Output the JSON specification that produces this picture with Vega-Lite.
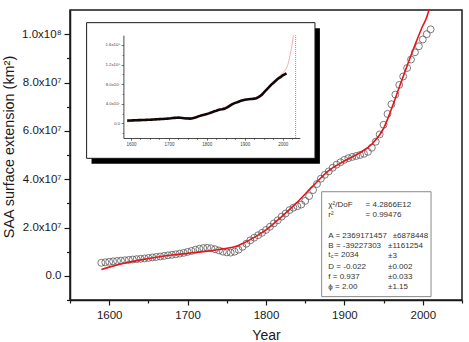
{
  "$schema": "https://vega.github.io/schema/vega-lite/v6.json",
  "width": 392,
  "height": 290,
  "autosize": {"type": "none"},
  "padding": {"left": 70, "top": 10, "right": 7, "bottom": 42},
  "background": "white",
  "config": {
    "font": "Liberation Sans",
    "view": {"stroke": "#1a1a1a", "strokeWidth": 1.5},
    "axis": {
      "grid": false,
      "domainColor": "#1a1a1a",
      "tickColor": "#1a1a1a",
      "labelColor": "#1a1a1a",
      "titleColor": "#1a1a1a",
      "labelFont": "Liberation Sans",
      "titleFont": "Liberation Sans",
      "titleFontWeight": "normal"
    }
  },
  "datasets": {
    "saa": [
      {"year": 1590, "area": 5400000}, {"year": 1595, "area": 5600000}, {"year": 1600, "area": 5800000},
      {"year": 1605, "area": 6000000}, {"year": 1610, "area": 6150000}, {"year": 1615, "area": 6300000},
      {"year": 1620, "area": 6450000}, {"year": 1625, "area": 6600000}, {"year": 1630, "area": 6750000},
      {"year": 1635, "area": 6900000}, {"year": 1640, "area": 7050000}, {"year": 1645, "area": 7200000},
      {"year": 1650, "area": 7400000}, {"year": 1655, "area": 7600000}, {"year": 1660, "area": 7800000},
      {"year": 1665, "area": 8000000}, {"year": 1670, "area": 8250000}, {"year": 1675, "area": 8500000},
      {"year": 1680, "area": 8700000}, {"year": 1685, "area": 8900000}, {"year": 1690, "area": 9200000},
      {"year": 1695, "area": 9500000}, {"year": 1700, "area": 9900000}, {"year": 1705, "area": 10300000},
      {"year": 1710, "area": 10800000}, {"year": 1715, "area": 11200000}, {"year": 1720, "area": 11500000},
      {"year": 1725, "area": 11600000}, {"year": 1730, "area": 11400000}, {"year": 1735, "area": 11000000},
      {"year": 1740, "area": 10500000}, {"year": 1745, "area": 10000000}, {"year": 1750, "area": 9700000},
      {"year": 1755, "area": 9600000}, {"year": 1760, "area": 10000000}, {"year": 1765, "area": 10800000},
      {"year": 1770, "area": 12000000}, {"year": 1775, "area": 13300000}, {"year": 1780, "area": 14700000},
      {"year": 1785, "area": 15800000}, {"year": 1790, "area": 16800000}, {"year": 1795, "area": 17800000},
      {"year": 1800, "area": 19000000}, {"year": 1805, "area": 20300000}, {"year": 1810, "area": 21700000},
      {"year": 1815, "area": 23000000}, {"year": 1820, "area": 24500000}, {"year": 1825, "area": 25800000},
      {"year": 1830, "area": 27200000}, {"year": 1835, "area": 28200000}, {"year": 1840, "area": 28800000},
      {"year": 1845, "area": 29500000}, {"year": 1850, "area": 31000000}, {"year": 1855, "area": 33000000},
      {"year": 1860, "area": 35500000}, {"year": 1865, "area": 38000000}, {"year": 1870, "area": 40200000},
      {"year": 1875, "area": 41800000}, {"year": 1880, "area": 43200000}, {"year": 1885, "area": 44700000},
      {"year": 1890, "area": 46000000}, {"year": 1895, "area": 47000000}, {"year": 1900, "area": 48000000},
      {"year": 1905, "area": 48700000}, {"year": 1910, "area": 49200000}, {"year": 1915, "area": 49600000},
      {"year": 1920, "area": 50000000}, {"year": 1925, "area": 50500000}, {"year": 1930, "area": 51300000},
      {"year": 1935, "area": 53000000}, {"year": 1940, "area": 55500000}, {"year": 1945, "area": 58500000},
      {"year": 1950, "area": 62500000}, {"year": 1955, "area": 67000000}, {"year": 1960, "area": 71000000},
      {"year": 1965, "area": 75000000}, {"year": 1970, "area": 79000000}, {"year": 1975, "area": 82500000},
      {"year": 1980, "area": 86000000}, {"year": 1985, "area": 89500000}, {"year": 1990, "area": 92500000},
      {"year": 1995, "area": 95000000}, {"year": 2000, "area": 97800000}, {"year": 2005, "area": 100000000},
      {"year": 2010, "area": 102000000}
    ],
    "fit": [
      {"year": 1590, "fit": 2600000}, {"year": 1600, "fit": 3600000}, {"year": 1620, "fit": 5300000},
      {"year": 1640, "fit": 6600000}, {"year": 1660, "fit": 7700000}, {"year": 1680, "fit": 8600000},
      {"year": 1700, "fit": 9300000}, {"year": 1720, "fit": 10000000}, {"year": 1740, "fit": 10900000},
      {"year": 1760, "fit": 12000000}, {"year": 1780, "fit": 15000000}, {"year": 1800, "fit": 19000000},
      {"year": 1820, "fit": 24500000}, {"year": 1840, "fit": 30500000}, {"year": 1860, "fit": 37200000},
      {"year": 1880, "fit": 43500000}, {"year": 1900, "fit": 47500000}, {"year": 1920, "fit": 51000000},
      {"year": 1935, "fit": 54500000}, {"year": 1950, "fit": 61000000}, {"year": 1960, "fit": 69000000},
      {"year": 1970, "fit": 78000000}, {"year": 1980, "fit": 86900000}, {"year": 1990, "fit": 95500000},
      {"year": 2000, "fit": 103500000}, {"year": 2005, "fit": 107000000}, {"year": 2010, "fit": 113000000},
      {"year": 2015, "fit": 124000000}, {"year": 2020, "fit": 142000000}, {"year": 2025, "fit": 162000000},
      {"year": 2028, "fit": 180000000}
    ]
  },
  "layer": [
    {
      "layer": [
        {
          "data": {"name": "saa"},
          "mark": {"type": "point", "filled": false, "size": 48, "stroke": "#5a5a5a", "strokeWidth": 0.8, "opacity": 1},
          "encoding": {
            "x": {
              "field": "year", "type": "quantitative",
              "scale": {"domain": [1550, 2050], "nice": false, "zero": false},
              "axis": {
                "orient": "bottom", "values": [1600, 1700, 1800, 1900, 2000], "format": "d",
                "tickSize": 5, "tickWidth": 1.2, "domainWidth": 1.5,
                "labelFontSize": 11.5, "labelPadding": 4,
                "title": "Year", "titleFontSize": 14, "titleBaseline": "alphabetic", "titleY": 39
              }
            },
            "y": {
              "field": "area", "type": "quantitative",
              "scale": {"domain": [-10000000, 110000000], "nice": false, "zero": false},
              "axis": {
                "orient": "left", "values": [0, 20000000, 40000000, 60000000, 80000000, 100000000],
                "labelExpr": "datum.value == 0 ? '0.0' : datum.value >= 100000000 ? format(datum.value / 100000000, '.1f') + 'x10⁸' : format(datum.value / 10000000, '.1f') + 'x10⁷'",
                "tickSize": 6, "tickWidth": 1.2, "domainWidth": 1.5,
                "labelFontSize": 11.5, "labelPadding": 3,
                "title": "SAA surface extension (km²)", "titleFontSize": 14.4, "titleAngle": 270,
                "titleX": -61, "titleY": 136.5, "titleAlign": "center", "titleBaseline": "middle"
              }
            }
          }
        },
        {
          "data": {"name": "fit"},
          "mark": {"type": "line", "color": "#e4161b", "strokeWidth": 1.6, "interpolate": "monotone", "clip": true},
          "encoding": {
            "x": {
              "field": "year", "type": "quantitative",
              "axis": {"orient": "bottom", "values": [1550, 1650, 1750, 1850, 1950, 2050], "labels": false, "domain": false, "tickSize": 3, "tickWidth": 1.2, "title": null}
            },
            "y": {
              "field": "fit", "type": "quantitative",
              "axis": {"orient": "left", "values": [-10000000, 10000000, 30000000, 50000000, 70000000, 90000000], "labels": false, "domain": false, "tickSize": 3.5, "tickWidth": 1.2, "title": null}
            }
          }
        },
        {
          "data": {"values": [{}]},
          "mark": {"type": "rect", "fill": "white", "stroke": "#8a8a8a", "strokeWidth": 1},
          "encoding": {
            "x": {"datum": 1871, "type": "quantitative", "axis": null},
            "x2": {"datum": 2010.5},
            "y": {"datum": 34800000, "type": "quantitative", "axis": null},
            "y2": {"datum": -8600000}
          }
        },
        {
          "data": {"values": [{}]},
          "mark": {
            "type": "text", "align": "left", "baseline": "top", "fontSize": 8, "lineHeight": 10, "color": "#333333",
            "text": ["χ²/DoF", "r²"]
          },
          "encoding": {
            "x": {"datum": 1879.5, "type": "quantitative", "axis": null},
            "y": {"datum": 30760000, "type": "quantitative", "axis": null}
          }
        },
        {
          "data": {"values": [{}]},
          "mark": {
            "type": "text", "align": "left", "baseline": "top", "fontSize": 8, "lineHeight": 10, "color": "#333333",
            "text": ["A = 2369171457", "B = -39227303"]
          },
          "encoding": {
            "x": {"datum": 1879.5, "type": "quantitative", "axis": null},
            "y": {"datum": 18340000, "type": "quantitative", "axis": null}
          }
        },
        {
          "data": {"values": [{}]},
          "mark": {"type": "text", "align": "left", "baseline": "top", "fontSize": 8, "color": "#333333", "text": "t"},
          "encoding": {
            "x": {"datum": 1879.5, "type": "quantitative", "axis": null},
            "y": {"datum": 10070000, "type": "quantitative", "axis": null}
          }
        },
        {
          "data": {"values": [{}]},
          "mark": {"type": "text", "align": "left", "baseline": "top", "fontSize": 5.5, "color": "#333333", "text": "c"},
          "encoding": {
            "x": {"datum": 1882.6, "type": "quantitative", "axis": null},
            "y": {"datum": 8830000, "type": "quantitative", "axis": null}
          }
        },
        {
          "data": {"values": [{}]},
          "mark": {"type": "text", "align": "left", "baseline": "top", "fontSize": 8, "color": "#333333", "text": "= 2034"},
          "encoding": {
            "x": {"datum": 1886.8, "type": "quantitative", "axis": null},
            "y": {"datum": 10070000, "type": "quantitative", "axis": null}
          }
        },
        {
          "data": {"values": [{}]},
          "mark": {
            "type": "text", "align": "left", "baseline": "top", "fontSize": 8, "lineHeight": 10, "color": "#333333",
            "text": ["D = -0.022", "f  =  0.937", "ϕ =  2.00"]
          },
          "encoding": {
            "x": {"datum": 1879.5, "type": "quantitative", "axis": null},
            "y": {"datum": 5310000, "type": "quantitative", "axis": null}
          }
        },
        {
          "data": {"values": [{}]},
          "mark": {
            "type": "text", "align": "left", "baseline": "top", "fontSize": 8, "lineHeight": 10, "color": "#333333",
            "text": ["= 4.2866E12", " = 0.99476"]
          },
          "encoding": {
            "x": {"datum": 1927, "type": "quantitative", "axis": null},
            "y": {"datum": 30760000, "type": "quantitative", "axis": null}
          }
        },
        {
          "data": {"values": [{}]},
          "mark": {
            "type": "text", "align": "left", "baseline": "top", "fontSize": 8, "lineHeight": 10, "color": "#333333",
            "text": ["±1161254", "±3"]
          },
          "encoding": {
            "x": {"datum": 1955.6, "type": "quantitative", "axis": null},
            "y": {"datum": 14200000, "type": "quantitative", "axis": null}
          }
        },
        {
          "data": {"values": [{}]},
          "mark": {
            "type": "text", "align": "left", "baseline": "top", "fontSize": 8, "lineHeight": 10, "color": "#333333",
            "text": ["±0.002", "±0.033", "±1.15"]
          },
          "encoding": {
            "x": {"datum": 1955.6, "type": "quantitative", "axis": null},
            "y": {"datum": 5310000, "type": "quantitative", "axis": null}
          }
        },
        {
          "data": {"values": [{}]},
          "mark": {"type": "text", "align": "left", "baseline": "top", "fontSize": 8, "color": "#333333", "text": "±6878448"},
          "encoding": {
            "x": {"datum": 1961.6, "type": "quantitative", "axis": null},
            "y": {"datum": 18340000, "type": "quantitative", "axis": null}
          }
        }
      ],
      "resolve": {"axis": {"x": "independent", "y": "independent"}}
    },
    {
      "layer": [
        {
          "data": {"values": [{}]},
          "mark": {"type": "rect", "fill": "#000000"},
          "encoding": {
            "x": {"datum": 1496, "type": "quantitative", "scale": {"domain": [1580, 2045], "range": [53.4, 229.8], "nice": false, "zero": false}, "axis": null},
            "x2": {"datum": 2098},
            "y": {"datum": 194400000, "type": "quantitative", "scale": {"domain": [-30000000, 180000000], "range": [128, 25.2], "nice": false, "zero": false}, "axis": null},
            "y2": {"datum": -82700000}
          }
        },
        {
          "data": {"values": [{}]},
          "mark": {"type": "rect", "fill": "white", "stroke": "#1a1a1a", "strokeWidth": 1},
          "encoding": {
            "x": {"datum": 1483, "type": "quantitative", "axis": null},
            "x2": {"datum": 2085},
            "y": {"datum": 205600000, "type": "quantitative", "axis": null},
            "y2": {"datum": -71500000}
          }
        },
        {
          "data": {"values": [{}]},
          "mark": {"type": "rule", "stroke": "#7a7a7a", "strokeWidth": 0.8, "strokeDash": [1, 1]},
          "encoding": {
            "x": {"datum": 2034, "type": "quantitative", "axis": null},
            "y": {"datum": -30000000, "type": "quantitative", "axis": null},
            "y2": {"datum": 180000000}
          }
        },
        {
          "data": {"name": "fit"},
          "mark": {"type": "line", "color": "#f08a8a", "strokeWidth": 0.7, "interpolate": "monotone"},
          "encoding": {
            "x": {
              "field": "year", "type": "quantitative",
              "axis": {"orient": "bottom", "offset": -162, "values": [1625, 1650, 1675, 1725, 1750, 1775, 1825, 1850, 1875, 1925, 1950, 1975, 2025], "labels": false, "domain": false, "tickSize": 1.3, "tickWidth": 0.6, "title": null, "zindex": 1}
            },
            "y": {
              "field": "fit", "type": "quantitative",
              "axis": {"orient": "left", "offset": -53.4, "values": [-20000000, 20000000, 60000000, 100000000, 140000000], "labels": false, "domain": false, "tickSize": 1.3, "tickWidth": 0.6, "title": null, "zindex": 1}
            }
          }
        },
        {
          "data": {"name": "saa"},
          "mark": {"type": "line", "color": "#120606", "strokeWidth": 2.6},
          "encoding": {
            "x": {
              "field": "year", "type": "quantitative",
              "axis": {"orient": "bottom", "offset": -162, "values": [1600, 1700, 1800, 1900, 2000], "format": "d", "labelFontSize": 4.5, "labelPadding": 1, "labelColor": "#444444", "tickSize": 2.2, "tickWidth": 0.6, "domainWidth": 0.8, "title": null, "zindex": 1}
            },
            "y": {
              "field": "area", "type": "quantitative",
              "axis": {
                "orient": "left", "offset": -53.4, "values": [0, 40000000, 80000000, 120000000, 160000000],
                "labelExpr": "datum.value == 0 ? '0.0' : datum.value >= 100000000 ? format(datum.value / 100000000, '.1f') + 'x10⁸' : format(datum.value / 10000000, '.1f') + 'x10⁷'",
                "labelFontSize": 4.3, "labelPadding": 1.5, "labelColor": "#444444", "tickSize": 2.2, "tickWidth": 0.6, "domainWidth": 0.8, "title": null, "zindex": 1
              }
            }
          }
        }
      ],
      "resolve": {"axis": {"x": "independent", "y": "independent"}}
    }
  ],
  "resolve": {
    "scale": {"x": "independent", "y": "independent"},
    "axis": {"x": "independent", "y": "independent"}
  }
}
